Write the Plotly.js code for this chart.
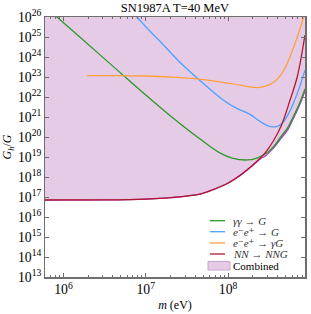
<!DOCTYPE html>
<html>
<head>
<meta charset="utf-8">
<script src="https://cdn.plot.ly/plotly-3.0.1.min.js"></script>
<style>html,body{margin:0;padding:0;background:#fff;}#chart{width:311px;height:314px;}</style>
</head>
<body>
<div id="chart"></div>
<script>
// gamma gamma -> G
const ggM = [7.59e5, 1.58e6, 3.98e6, 1e7, 2e7, 4.57e7, 7.94e7, 1.12e8, 1.7e8, 2.24e8, 2.82e8, 3.55e8, 4.27e8, 5.37e8, 6.17e8, 7.41e8, 8.6e8];
const ggG = [1.4e26, 1e25, 3.5e23, 1.26e22, 1.12e21, 7.9e19, 1.6e19, 8.9e18, 7.1e18, 8.9e18, 1.4e19, 3.2e19, 8.9e19, 3.2e20, 1e21, 5e21, 2.5e22];
// e- e+ -> G
const eeM = [7.24e6, 1.12e7, 1.48e7, 2.51e7, 4.47e7, 8.71e7, 1.26e8, 1.82e8, 2.51e8, 3.02e8, 3.55e8, 4.17e8, 4.79e8, 5.5e8, 6.31e8, 7.41e8, 8.6e8];
const eeG = [1.4e26, 2e25, 6.3e24, 6.3e23, 7.1e22, 7.1e21, 2.8e21, 1.4e21, 5.6e20, 3.7e20, 3.2e20, 3.7e20, 6.3e20, 1.6e21, 5.6e21, 3.2e22, 2.2e23];
// e- e+ -> gamma G
const eegM = [1.93e6, 3.98e6, 1e7, 2e7, 4.47e7, 1.15e8, 1.82e8, 2.29e8, 3.16e8, 3.98e8, 5.01e8, 6.03e8, 7.08e8, 7.94e8, 8.6e8];
const eegG = [1.17e23, 1.17e23, 1.12e23, 1e23, 7.9e22, 4.5e22, 3.2e22, 2.95e22, 4e22, 7.9e22, 3.2e23, 2e24, 1.26e25, 5.6e25, 1.6e26];
// N N -> N N G
const nnM = [5.97e5, 1e6, 3.16e6, 1e7, 2e7, 4.57e7, 6.3e7, 1e8, 1.41e8, 2e8, 2.82e8, 3.55e8, 4.47e8, 5.62e8, 6.92e8, 8.6e8];
const nnG = [7.08e16, 7.1e16, 7.2e16, 7.9e16, 9.3e16, 1.4e17, 2.2e17, 5e17, 1.26e18, 4e18, 1.6e19, 6.3e19, 4e20, 6.3e21, 1e23, 1.26e25];
// Combined lower edge
const combM = [5.97e5, 1e6, 3.16e6, 1e7, 2e7, 4.57e7, 6.3e7, 1e8, 1.41e8, 2e8, 2.51e8, 2.82e8, 3.16e8, 3.55e8, 4.27e8, 5.37e8, 6.17e8, 7.41e8, 8.6e8];
const combG = [7.0e16, 7.0e16, 7.1e16, 7.8e16, 9.2e16, 1.38e17, 2.15e17, 4.9e17, 1.2e18, 3.8e18, 8.5e18, 1.1e19, 1.7e19, 2.8e19, 7.2e19, 2.5e20, 8e20, 4e21, 2e22];

const labels = ['<i>γγ</i> → <i>G</i>', '<i>e</i>⁻<i>e</i>⁺ → <i>G</i>', '<i>e</i>⁻<i>e</i>⁺ → <i>γG</i>', '<i>NN</i> → <i>NNG</i>', 'Combined'];
const colors = ['#2a9a2a', '#4aa3ff', '#ffa040', '#b0182e', '#a43cc0'];
const fillColor = '#e6cbe6';
const fillEdge = '#c9a3cf';

const serif = 'Liberation Serif, DejaVu Serif, serif';
const lw = 1.3;

const traces = [
  {x: combM, y: combM.map(() => 1e28), mode: 'lines', line: {width: 0, color: fillColor}, showlegend: false, hoverinfo: 'skip'},
  {x: combM, y: combG, mode: 'lines', fill: 'tonexty', fillcolor: fillColor, line: {width: lw, color: colors[4], shape: 'spline'}, name: labels[4], showlegend: false},
  {x: ggM, y: ggG, mode: 'lines', name: labels[0], line: {width: lw, color: colors[0], shape: 'spline'}, showlegend: false},
  {x: eeM, y: eeG, mode: 'lines', name: labels[1], line: {width: lw, color: colors[1], shape: 'spline'}, showlegend: false},
  {x: eegM, y: eegG, mode: 'lines', name: labels[2], line: {width: lw, color: colors[2], shape: 'spline'}, showlegend: false},
  {x: nnM, y: nnG, mode: 'lines', name: labels[3], line: {width: lw, color: colors[3], shape: 'spline'}, showlegend: false}
];

// hand-placed legend (paper coordinates)
const legRows = [0.2165, 0.1742, 0.1308, 0.0885, 0.0435];
const legLineX = [0.6346, 0.6923];
const legTextX = 0.721;
const shapes = [];
const annotations = [];
for (let i = 0; i < 4; i++) {
  shapes.push({type: 'line', xref: 'paper', yref: 'paper', x0: legLineX[0], x1: legLineX[1], y0: legRows[i], y1: legRows[i], line: {color: colors[i], width: lw}});
}
shapes.push({type: 'rect', xref: 'paper', yref: 'paper', x0: 0.6269, x1: 0.7115, y0: 0.0269, y1: 0.0596, fillcolor: fillColor, line: {color: fillEdge, width: 1}});
for (let i = 0; i < 5; i++) {
  annotations.push({xref: 'paper', yref: 'paper', x: legTextX, y: legRows[i], xanchor: 'left', yanchor: 'middle', showarrow: false, borderpad: 0, text: labels[i], font: {family: serif, size: 11, color: i < 4 ? '#333' : '#000'}});
}

const axisCommon = {
  type: 'log', showgrid: false, zeroline: false,
  showline: true, linecolor: '#6e6e6e', linewidth: 1.5, mirror: 'ticks',
  ticks: 'inside', ticklen: 4, tickcolor: '#6e6e6e', tickwidth: 1,
  exponentformat: 'power', showexponent: 'all', dtick: 1,
  tickfont: {family: serif, size: 11, color: '#000'}
};

const layout = {
  width: 311, height: 314,
  margin: {l: 45, r: 6, t: 17, b: 37},
  paper_bgcolor: '#fff', plot_bgcolor: '#fff',
  title: {text: 'SN1987A T=40 MeV', font: {family: serif, size: 12.5, color: '#000'}, x: 0.5625, xanchor: 'center', y: 0.975, yanchor: 'middle'},
  xaxis: Object.assign({}, axisCommon, {
    range: [5.776, 8.935],
    minor: {ticks: 'inside', ticklen: 2, tickcolor: '#6e6e6e', dtick: 'D1'},
    title: {text: '<i>m</i> (eV)', font: {family: serif, size: 12, color: '#000'}, standoff: 4}
  }),
  yaxis: Object.assign({}, axisCommon, {
    range: [13, 26],
    title: {text: '<i>G<sub>h</sub></i>/<i>G</i>', font: {family: serif, size: 12, color: '#000'}, standoff: 6}
  }),
  shapes: shapes,
  annotations: annotations,
  showlegend: false
};

Plotly.newPlot('chart', traces, layout, {displayModeBar: false, staticPlot: true});
</script>
</body>
</html>
